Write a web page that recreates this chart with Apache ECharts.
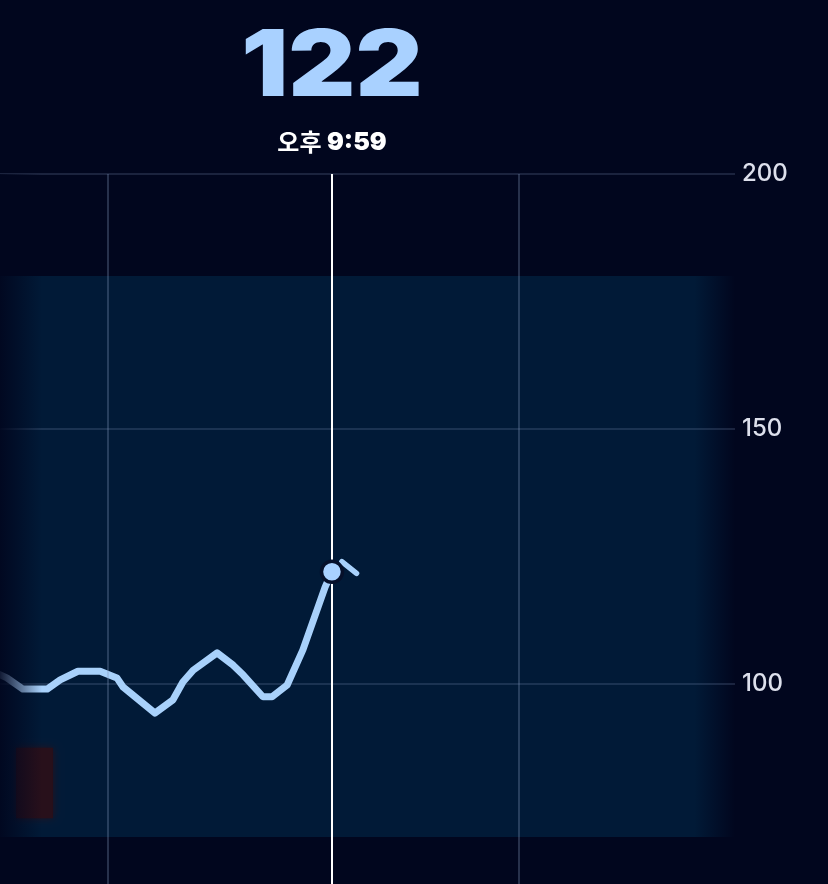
<!DOCTYPE html>
<html>
<head>
<meta charset="utf-8">
<script src="https://cdn.jsdelivr.net/npm/echarts@6/dist/echarts.min.js"></script>
<style>
  html, body { margin: 0; padding: 0; background: #01061e; }
  #chart { width: 828px; height: 884px; }
</style>
</head>
<body>
<div id="chart"></div>
<script>
// ---- data (minutes since midnight, mg/dL) ----
const times   = [1225.5, 1230.4, 1235.1, 1242.2, 1246.0, 1251.2, 1257.7, 1262.6, 1264.4, 1273.7, 1279.0,
                 1281.9, 1284.9, 1291.9, 1296.6, 1299.5, 1305.3, 1308.0, 1312.4, 1317.0, 1323.5, 1325.5];
const glucose = [102.7, 101.2, 99.0, 99.0, 100.8, 102.5, 102.5, 101.2, 99.4, 94.3, 96.9,
                 100.4, 102.7, 106.1, 103.7, 101.8, 97.5, 97.5, 99.8, 106.7, 119.0, 122];
const trendTimes  = [1328.4, 1332.7];
const trendValues = [124.0, 121.7];
const targetRange = [70, 180];
const eventTimes  = [1233.1, 1243.9];
const eventValues = [73.7, 87.5];
const hourLines   = [1260, 1380];
const yTicks      = [50, 100, 150, 200];
const xRange      = [1228.4, 1443.4];
const timeLabelPrefix = '오후';
const timeLabel   = '9:59';

const BG = '#01061e';
const lastIdx = glucose.length - 1;
const lineData = times.map((t, i) => [t, glucose[i]]);

const chart = echarts.init(document.getElementById('chart'), null, { renderer: 'canvas' });

chart.setOption({
  backgroundColor: BG,
  animation: false,
  grid: { left: 0, top: 174, width: 735, height: 765, containLabel: false, outerBoundsMode: 'none' },
  xAxis: {
    type: 'value', min: xRange[0], max: xRange[1], show: false
  },
  yAxis: {
    type: 'value', position: 'right',
    min: yTicks[0], max: yTicks[yTicks.length - 1], interval: yTicks[1] - yTicks[0],
    z: 2,
    axisLine: { show: false }, axisTick: { show: false },
    axisLabel: { color: '#dde0ec', fontSize: 24, fontWeight: 500, fontFamily: 'Inter, "Open Sans", sans-serif', margin: 7, showMinLabel: false },
    splitLine: { lineStyle: { color: 'rgba(130,150,185,0.28)', width: 1.5 } }
  },
  graphic: [
    {
      type: 'rect', z: 100, silent: true,
      shape: { x: 0, y: 174, width: 42, height: 710 },
      style: { fill: new echarts.graphic.LinearGradient(0, 0, 1, 0, [
        { offset: 0, color: 'rgba(1,6,30,0.9)' },
        { offset: 1, color: 'rgba(1,6,30,0)' }
      ]) }
    },
    {
      type: 'text', z: 100, x: 332, y: 68, scaleY: 0.88,
      style: {
        text: String(Math.round(glucose[lastIdx])),
        fill: '#a9d1ff', font: '900 104px Inter, "Noto Sans", sans-serif',
        textAlign: 'center', textVerticalAlign: 'middle', align: 'center', verticalAlign: 'middle'
      }
    },
    {
      type: 'text', z: 100, x: 332, y: 142,
      style: {
        rich: {
          k: { fontSize: 24, fontWeight: 'bold', fontFamily: '"Noto Sans CJK KR", sans-serif', fill: '#ffffff', color: '#ffffff' },
          t: { fontSize: 25, fontWeight: 900, fontFamily: 'Inter, sans-serif', fill: '#ffffff', color: '#ffffff' }
        },
        text: '{k|' + timeLabelPrefix + ' }{t|' + timeLabel + '}',
        textAlign: 'center', textVerticalAlign: 'middle', align: 'center', verticalAlign: 'middle'
      }
    }
  ],
  series: [
    {
      name: 'band', type: 'line', data: [], z: 1, silent: true,
      markArea: {
        silent: true,
        itemStyle: {
          color: new echarts.graphic.LinearGradient(0, 0, 1, 0, [
            { offset: 0, color: '#011a37' },
            { offset: 0.945, color: '#011a37' },
            { offset: 1, color: 'rgba(1,26,55,0)' }
          ])
        },
        data: [[{ xAxis: xRange[0], yAxis: targetRange[0] }, { xAxis: xRange[1], yAxis: targetRange[1] }]]
      }
    },
    {
      name: 'event', type: 'line', data: [], z: 1, silent: true,
      markArea: {
        silent: true,
        itemStyle: { color: '#28101b', shadowBlur: 8, shadowColor: '#28101b' },
        data: [[{ xAxis: eventTimes[0], yAxis: eventValues[0] }, { xAxis: eventTimes[1], yAxis: eventValues[1] }]]
      }
    },
    {
      name: 'hours', type: 'line', data: [], z: 2, silent: true,
      markLine: {
        silent: true, symbol: 'none', label: { show: false },
        lineStyle: { color: 'rgba(130,150,185,0.3)', width: 2, type: 'solid' },
        data: hourLines.map(h => ({ xAxis: h }))
      }
    },
    {
      name: 'cursor', type: 'line', data: [], z: 3, silent: true,
      markLine: {
        silent: true, symbol: 'none', label: { show: false },
        lineStyle: { color: '#ffffff', width: 2, type: 'solid' },
        data: [{ xAxis: times[lastIdx] }]
      }
    },
    {
      name: 'glucose', type: 'line', z: 4,
      data: lineData, showSymbol: false, smooth: false,
      lineStyle: { color: '#a8d1fb', width: 7, cap: 'round', join: 'round' }
    },
    {
      name: 'trend', type: 'line', z: 4,
      data: trendTimes.map((t, i) => [t, trendValues[i]]), showSymbol: false,
      lineStyle: { color: '#a8d1fb', width: 5.5, cap: 'round' }
    },
    {
      name: 'current', type: 'scatter', z: 5,
      data: [[times[lastIdx], glucose[lastIdx]]],
      symbolSize: 21,
      itemStyle: { color: '#a9d1ff', opacity: 1, borderColor: '#06102a', borderWidth: 3.5 }
    }
  ]
});
</script>
</body>
</html>
